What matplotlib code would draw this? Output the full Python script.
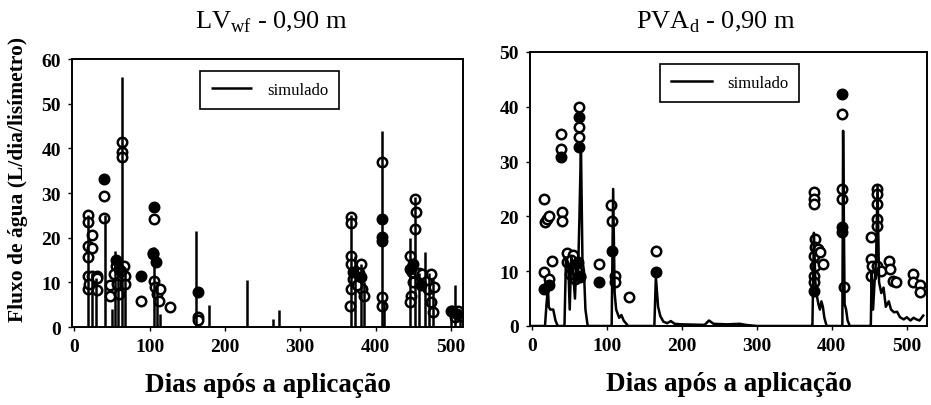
import matplotlib
matplotlib.use("Agg")
import matplotlib.pyplot as plt

plt.rcParams['font.family'] = ['Liberation Serif', 'DejaVu Serif']
plt.rcParams['mathtext.fontset'] = 'custom'
plt.rcParams['mathtext.rm'] = 'Liberation Serif'

# LV_wf - simulated flux (daily spikes)
sim_l_days = [18, 24, 29, 41, 50, 54, 58, 63, 68, 106, 110, 114, 162, 179, 229,
              264, 272, 368, 373, 380, 385, 408, 411, 446, 452, 457, 466, 471,
              476, 500, 505, 512]
sim_l_vals = [25, 12, 11, 25, 4, 17, 15, 56, 13, 18, 10, 3, 21.5, 5, 10.5,
              1.8, 3.7, 25, 16, 14, 10, 44, 6, 20, 29, 12, 16.7, 12,
              11, 4, 9.3, 3.5]

# LV_wf - observed (open / filled)
obs_l_open_days = [18, 18, 18, 18, 18, 18, 23, 23, 24, 30, 30, 30, 20,
                   40, 40, 48, 48,
                   55, 53, 57, 60, 66, 68, 68, 62,
                   64, 64, 64, 88,
                   106, 105, 106, 107, 110, 112, 114, 127,
                   164, 164,
                   368, 368, 368, 367, 370, 368, 366, 380, 382, 384, 378, 375,
                   408, 409, 409,
                   452, 453, 452, 446, 448, 450, 447, 446, 458, 462, 468, 473,
                   470, 474, 476, 478, 500, 505, 510, 514]
obs_l_open_vals = [25, 23.5, 18.2, 15.7, 11.5, 8.5, 20.6, 17.7, 11.5, 11.5, 10.9, 8.3, 9.6,
                   29.4, 24.4, 9.5, 7,
                   13.7, 11.9, 9.6, 7.4, 13.7, 11.5, 9.6, 12.5,
                   41.4, 39.2, 38.1, 5.9,
                   24.2, 16.3, 10.4, 9, 7.4, 5.9, 8.5, 4.5,
                   2.2, 1.5,
                   24.6, 23.3, 16, 14, 10.7, 8.5, 4.8, 14.1, 8.5, 7, 12, 9.3,
                   36.9, 6.7, 4.8,
                   28.7, 25.7, 21.9, 16, 12.3, 10.1, 7, 5.5, 12, 11.9, 10.3, 11.9,
                   8.5, 5.6, 3.4, 9, 3.6, 2.2, 3.6, 2.5]
obs_l_fill_days = [40, 56, 60, 88, 106, 104, 108, 164, 370, 380, 408, 408, 409,
                   446, 450, 460, 502, 508]
obs_l_fill_vals = [33.1, 15, 13, 11.5, 26.8, 16.5, 14.5, 7.8, 12.3, 11.2, 24.2, 20.1, 19.3,
                   13, 14.1, 9.5, 3.5, 3.0]

# PVA_d - simulated flux (continuous)
sim_r_days = [0, 17, 19, 21, 22, 24, 28, 31, 34,
              43, 45, 48, 50, 52, 54, 57, 59, 61, 63, 65, 67, 69, 71, 74,
              100, 106, 108, 110, 112, 116, 119, 122, 128,
              160, 163, 165, 168, 171, 175, 180, 185, 190, 200, 230, 236, 242,
              260, 277, 285, 300,
              372, 374, 376, 378, 380, 382, 384, 386, 388, 390, 393,
              412, 414, 415, 417, 419, 421, 424,
              450, 452, 453, 455, 457, 459, 461, 463, 466, 469, 472, 476, 479,
              483, 487, 491, 496, 500, 505, 509, 513, 517, 522]
sim_r_vals = [0, 0, 4, 7, 3.5, 3, 3, 1, 0,
              0, 12.5, 11.5, 3, 12.5, 11, 5, 12, 9, 20, 33, 12, 10, 3, 0,
              0, 0, 25, 6, 3, 1.5, 2, 1, 0,
              0, 0, 9, 3.5, 1.8, 0.8, 0.5, 0.9, 0.4, 0.3, 0.2, 1, 0.4,
              0.3, 0.4, 0.2, 0,
              0, 0, 17, 8, 5.5, 4, 3, 4.5, 3.5, 1.5, 0,
              0, 0, 35.6, 4, 3, 1, 0,
              0, 0, 9.8, 3, 8, 12, 25.6, 8, 6, 7, 3.5, 4.5, 3,
              2.5, 2.6, 1.6, 1.2, 1.6, 1, 1.5, 1.2, 1, 1.9]

# PVA_d - observed (open / filled)
obs_r_open_days = [16, 17, 20, 16, 23, 27, 23,
                   39, 39, 40, 40,
                   46, 47, 55, 52, 57, 50, 60, 64,
                   63, 63, 63, 89,
                   105, 106, 110, 110, 129, 165,
                   376, 376, 376, 377, 377, 376, 377, 376, 376, 382, 384, 388,
                   414, 414, 414, 416,
                   460, 460, 460, 460, 460, 452, 452, 454, 460, 466, 452, 476,
                   478, 482, 486,
                   508, 508, 517, 517]
obs_r_open_vals = [23.2, 18.9, 19.5, 9.8, 20.1, 11.9, 8.6,
                   35, 32.3, 20.8, 19.2,
                   13.4, 11.7, 13, 12, 8.6, 9.5, 10, 9,
                   39.9, 36.3, 34.4, 11.3,
                   22, 19.2, 9.2, 8, 5.2, 13.7,
                   24.4, 23.2, 22.3, 15.9, 14.4, 12.8, 11, 9.2, 8, 14, 13.5, 11.3,
                   38.7, 25, 23.2, 7.1,
                   25, 24.1, 22.3, 19.5, 18.3, 16.2, 12.2, 11, 11, 10.1, 9.2, 11.9,
                   10.4, 8.3, 8,
                   9.5, 8, 7.4, 6.2]
obs_r_fill_days = [16, 23, 39, 61, 64, 63, 63, 89, 106, 165, 376, 414, 414, 414]
obs_r_fill_vals = [6.8, 7.5, 30.8, 11.7, 9.2, 38.1, 32.6, 8.0, 13.7, 9.8, 6.4, 42.3, 18, 17.1]

fig = plt.figure(figsize=(9.31, 4.06), dpi=100)
ax1 = fig.add_axes([0.0773, 0.1921, 0.420, 0.660])
ax2 = fig.add_axes([0.5693, 0.1946, 0.4264, 0.675])

mk = dict(linestyle='none', marker='o', markersize=6.8, markeredgewidth=1.8,
          markeredgecolor='black', zorder=2)


def style(ax, ymax, xmax):
    ax.set_xlim(-3, xmax)
    ax.set_ylim(0, ymax)
    ax.set_xticks([0, 100, 200, 300, 400, 500])
    ax.set_yticks(range(0, ymax + 1, 10))
    ax.tick_params(direction='out', length=3, width=1, labelsize=14, pad=5)
    for lab in ax.get_xticklabels() + ax.get_yticklabels():
        lab.set_fontweight('bold')
    for s in ax.spines.values():
        s.set_linewidth(1.4)
    ax.set_xlabel('Dias após a aplicação', fontsize=19.5, fontweight='bold', labelpad=12)
    leg = ax.legend(loc='upper left', bbox_to_anchor=(0.327, 0.955), fontsize=12,
                    frameon=True, fancybox=False, edgecolor='black', framealpha=1,
                    handlelength=2.5, borderpad=0.65, handletextpad=0.9,
                    borderaxespad=0)
    leg.get_frame().set_linewidth(1.2)


ax1.plot(obs_l_open_days, obs_l_open_vals, markerfacecolor='white', **mk)
ax1.plot(obs_l_fill_days, obs_l_fill_vals, markerfacecolor='black', **mk)
ax1.vlines(sim_l_days, 0, sim_l_vals, colors='black', linewidth=1.8, zorder=3,
           label='simulado')
style(ax1, 60, 516)
ax1.set_ylabel('Fluxo de água (L/dia/lisímetro)', fontsize=15.5, fontweight='bold')
ax1.yaxis.set_label_coords(-0.113, 0.555)

ax2.plot(obs_r_open_days, obs_r_open_vals, markerfacecolor='white', **mk)
ax2.plot(obs_r_fill_days, obs_r_fill_vals, markerfacecolor='black', **mk)
ax2.plot(sim_r_days, sim_r_vals, color='black', linewidth=1.8, zorder=3,
         label='simulado')
style(ax2, 50, 527)

fig.text(0.291, 0.945, r'LV$_{\mathregular{wf}}$ - 0,90 m', fontsize=19,
         ha='center', va='center')
fig.text(0.769, 0.945, r'PVA$_{\mathregular{d}}$ - 0,90 m', fontsize=19,
         ha='center', va='center')

fig.savefig('out.png', dpi=100)
